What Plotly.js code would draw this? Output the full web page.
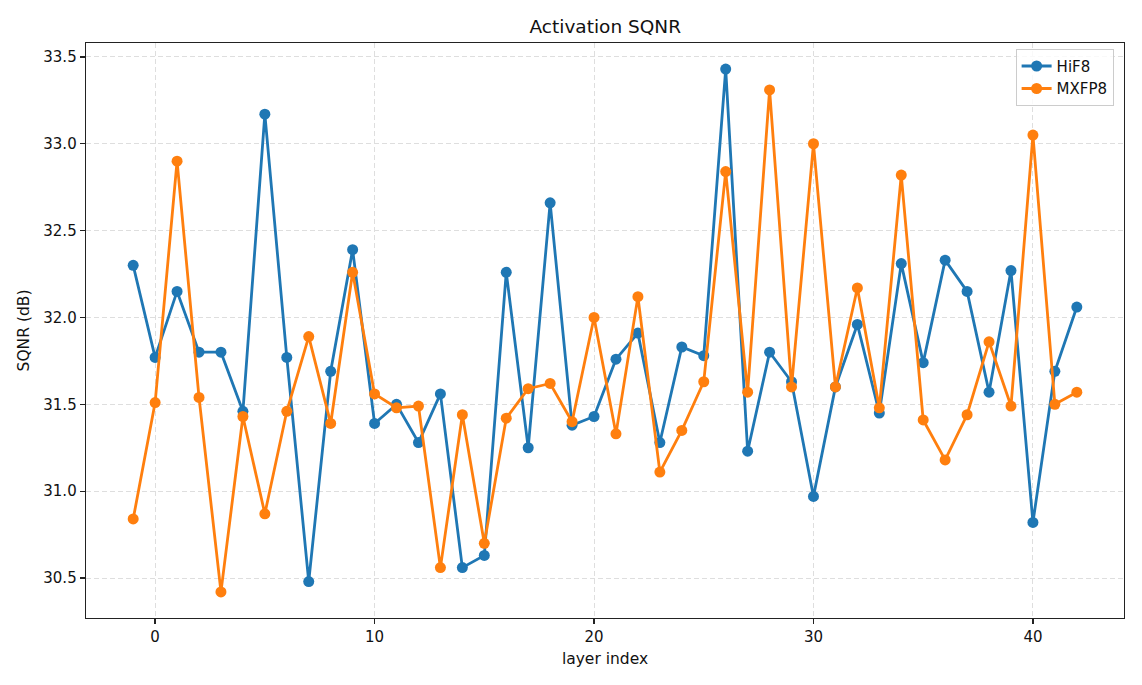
<!DOCTYPE html>
<html>
<head>
<meta charset="utf-8">
<script src="https://cdn.plot.ly/plotly-3.0.1.min.js"></script>
<style>
  html, body { margin: 0; padding: 0; background: #fff; }
  #chart { width: 1142px; height: 685px; }
</style>
</head>
<body>
<div id="chart"></div>
<script>
// layer indices -1 .. 42
var layers = [-1, 0, 1, 2, 3, 4, 5, 6, 7, 8, 9, 10, 11, 12, 13, 14, 15, 16, 17, 18, 19, 20,
  21, 22, 23, 24, 25, 26, 27, 28, 29, 30, 31, 32, 33, 34, 35, 36, 37, 38, 39, 40, 41, 42];

var hif8 = [32.30, 31.77, 32.15, 31.80, 31.80, 31.46, 33.17, 31.77, 30.48, 31.69, 32.39,
  31.39, 31.50, 31.28, 31.56, 30.56, 30.63, 32.26, 31.25, 32.66, 31.38, 31.43,
  31.76, 31.91, 31.28, 31.83, 31.78, 33.43, 31.23, 31.80, 31.63, 30.97, 31.60,
  31.96, 31.45, 32.31, 31.74, 32.33, 32.15, 31.57, 32.27, 30.82, 31.69, 32.06];

var mxfp8 = [30.84, 31.51, 32.90, 31.54, 30.42, 31.43, 30.87, 31.46, 31.89, 31.39, 32.26,
  31.56, 31.48, 31.49, 30.56, 31.44, 30.70, 31.42, 31.59, 31.62, 31.40, 32.00,
  31.33, 32.12, 31.11, 31.35, 31.63, 32.84, 31.57, 33.31, 31.60, 33.00, 31.60,
  32.17, 31.48, 32.82, 31.41, 31.18, 31.44, 31.86, 31.49, 33.05, 31.50, 31.57];

var xTicks = [0, 10, 20, 30, 40];
var yTicks = [30.5, 31.0, 31.5, 32.0, 32.5, 33.0, 33.5];

var font = "DejaVu Sans, sans-serif";

var traces = [
  {
    x: layers, y: hif8, name: 'HiF8',
    mode: 'lines+markers', type: 'scatter',
    line: {color: '#1f77b4', width: 2.8},
    marker: {color: '#1f77b4', size: 11}
  },
  {
    x: layers, y: mxfp8, name: 'MXFP8',
    mode: 'lines+markers', type: 'scatter',
    line: {color: '#ff7f0e', width: 2.8},
    marker: {color: '#ff7f0e', size: 11}
  }
];

var axisStyle = {
  showline: true, mirror: true, linecolor: '#222', linewidth: 1.3,
  ticks: 'outside', ticklen: 5, tickcolor: '#222', tickwidth: 1.3,
  showgrid: true, gridcolor: '#dedede', griddash: '5px,3px', gridwidth: 1,
  zeroline: false,
  tickfont: {family: font, size: 15, color: '#111'}
};

var layout = {
  width: 1142, height: 685,
  margin: {l: 86, r: 18, t: 43, b: 67},
  paper_bgcolor: '#fff', plot_bgcolor: '#fff',
  font: {family: font, color: '#111'},
  title: {text: 'Activation SQNR', font: {family: font, size: 18.5, color: '#111'},
    x: 0.53, xanchor: 'center', y: 0.962, yanchor: 'middle'},
  xaxis: Object.assign({}, axisStyle, {
    range: [-3.15, 44.15], tickvals: xTicks,
    title: {text: 'layer index', font: {family: font, size: 15.5, color: '#111'}, standoff: 8}
  }),
  yaxis: Object.assign({}, axisStyle, {
    range: [30.27, 33.58], tickvals: yTicks,
    tickformat: '.1f',
    title: {text: 'SQNR (dB)', font: {family: font, size: 15.5, color: '#111'}, standoff: 10}
  }),
  legend: {
    x: 0.99, xanchor: 'right', y: 0.99, yanchor: 'top',
    bgcolor: 'rgba(255,255,255,0.8)', bordercolor: '#cccccc', borderwidth: 1,
    font: {family: font, size: 15, color: '#111'}
  },
  showlegend: true
};

Plotly.newPlot('chart', traces, layout, {staticPlot: true});
</script>
</body>
</html>
